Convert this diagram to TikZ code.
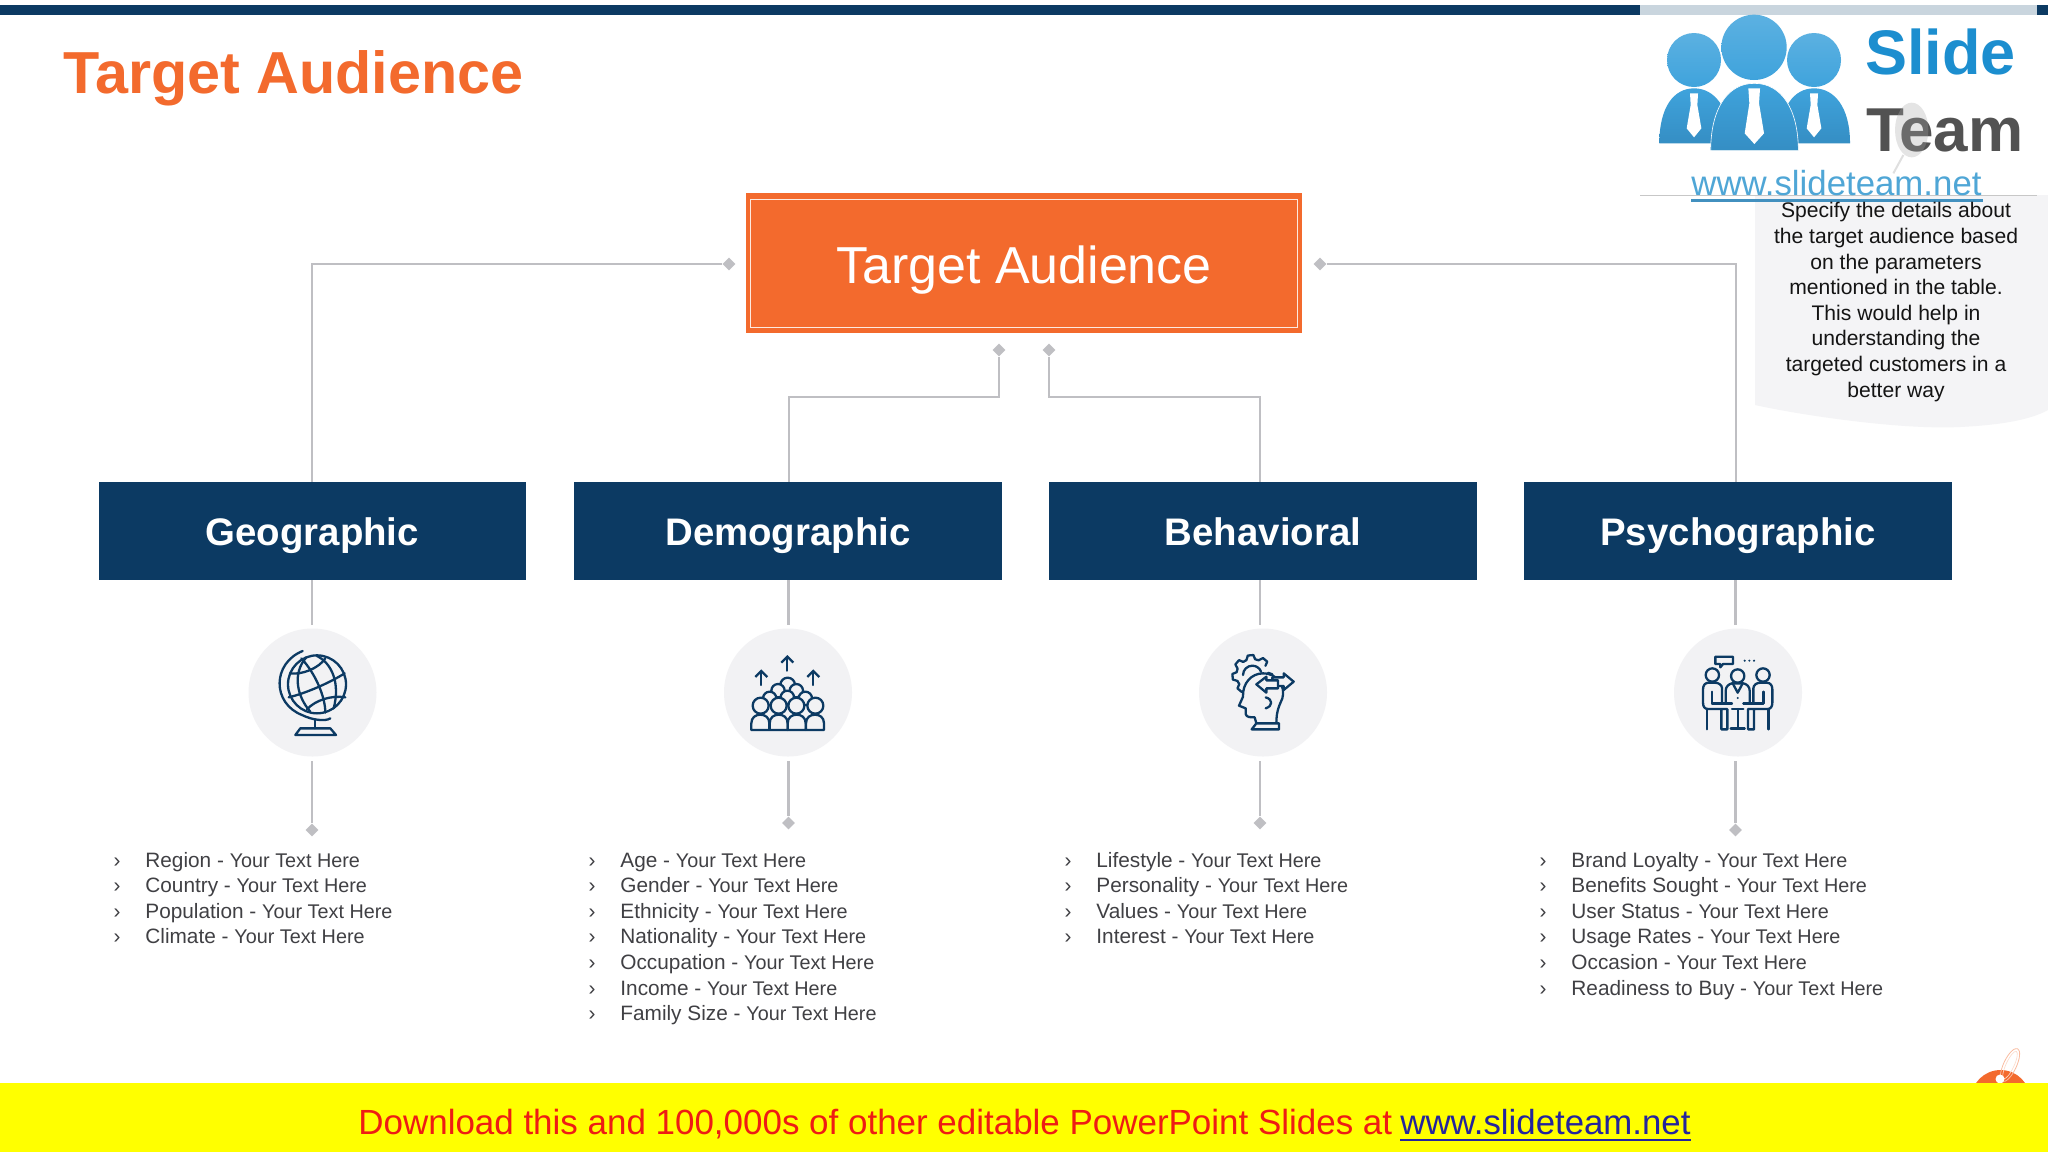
\documentclass[tikz,border=0pt]{standalone}
\usepackage{fontspec}
\setmainfont{Liberation Sans}
\usepackage{xcolor}
\usetikzlibrary{arrows.meta,shapes.geometric}
\definecolor{navy}{HTML}{0C3A63}
\definecolor{flame}{HTML}{F36A2D}
\definecolor{wire}{HTML}{BFBFC3}
\definecolor{disc}{HTML}{F2F2F4}
\definecolor{ink}{HTML}{404044}
\definecolor{sky}{HTML}{3FA3DC}
\definecolor{skyink}{HTML}{1C8ECF}
\definecolor{urlblue}{HTML}{4FA6D6}
\definecolor{bandred}{HTML}{EE1C14}
\definecolor{bandblue}{HTML}{24249C}
\definecolor{bandyellow}{HTML}{FFFF00}
\definecolor{barpale}{HTML}{C9D5DE}
\definecolor{notegray}{HTML}{F4F4F6}
\tikzset{
  conn/.style={draw=wire, line width=1.1pt},
  endtip/.style={diamond, fill=wire, inner sep=0pt, minimum size=6.5pt},
  headbox/.style={fill=navy, text=white, font=\fontsize{19.2}{23}\selectfont\bfseries, minimum width=213.7pt, minimum height=49pt, inner sep=0pt, text height=18pt, text depth=4pt},
  badge/.style={circle, fill=disc, minimum size=64pt, inner sep=0pt, outer sep=2pt},
  icon/.style={draw=navy, line width=1.15pt, line cap=round, line join=round},
  iconf/.style={icon, fill=disc},
  small/.style={x=0.16667pt, y=-0.16667pt},
  chev/.style={anchor=base, text=ink, font=\fontsize{10.4}{12}\selectfont},
  row/.style={anchor=base west, text=ink, inner sep=0pt, font=\fontsize{10.4}{12}\selectfont},
}
\newcommand{\yourtext}{{\fontsize{9.9}{12}\selectfont Your Text Here}}
\begin{document}
\begin{tikzpicture}[x=0.5pt,y=-0.5pt]
  \path[use as bounding box,fill=white] (0,0) rectangle (2048,1152);
  % top bar
  \fill[navy] (0,5) rectangle (1640,15);
  \fill[navy] (2037,5) rectangle (2048,15);
  \fill[notegray] (1755,195) -- (1755,405) .. controls (1800,415) and (1900,430) .. (1960,427)
    .. controls (2000,425) and (2030,420) .. (2048,410) -- (2048,195) -- cycle;
  \fill[white] (1640,15) rectangle (2037,195);
  \fill[barpale] (1640,5) rectangle (2037,15);
  \draw[black!22!white,line width=0.5pt] (1640,195) -- (2037,195);
  % logo
  \begin{scope}[shift={(1620,0)},small]
    \shade[top color=sky!85!white,bottom color=sky] (222,180) circle (81);
    \shade[top color=sky!85!white,bottom color=sky] (582,180) circle (81);
    \shade[top color=sky!85!white,bottom color=sky] (402,142) circle (98);
    \foreach \px in {222,582} {
      \shade[top color=sky,bottom color=sky!80!navy] (\px-104,430) .. controls (\px-104,320) and (\px-60,265) .. (\px,265)
        .. controls (\px+60,265) and (\px+108,320) .. (\px+108,430) -- cycle;
      \fill[white] (\px-12,280) -- (\px+12,280) -- (\px+10,315) -- (\px+22,385) -- (\px,412) -- (\px-22,385) -- (\px-10,315) -- cycle;
    }
    \shade[top color=sky,bottom color=sky!80!navy,draw=white,line width=0.3pt] (272,452) .. controls (272,330) and (320,250) .. (403,250)
      .. controls (486,250) and (535,330) .. (535,452) -- cycle;
    \fill[white] (385,265) -- (420,265) -- (417,310) -- (432,400) -- (403,432) -- (374,400) -- (388,310) -- cycle;
    \node[anchor=base west,inner sep=0pt,text=skyink,font=\fontsize{31.5}{36}\selectfont\bfseries] (logoslide) at (735,222) {Slide};
    \node[anchor=base west,inner sep=0pt,text=black!68,font=\fontsize{31}{36}\selectfont\bfseries] (logoteam) at (737,455) {Team};
    \fill[black!35,opacity=0.3] (875,390) ellipse (50 and 82);
    \draw[black!35,opacity=0.35,line width=1pt] (850,465) -- (820,520);
    \node[anchor=base west,inner sep=0pt,text=urlblue,font=\fontsize{17.4}{20}\selectfont] (logourl) at (213,586) {www.slideteam.net};
    \draw[urlblue!80!navy,line width=1.2pt] (213,601) -- (1088,601);
  \end{scope}
  % note text
  \node[align=center,inner sep=0pt,text=black!92,font=\fontsize{10.55}{12.8}\selectfont] (note) at (1896,302)
    {Specify the details about\\the target audience based\\on the parameters\\mentioned in the table.\\This would help in\\understanding the\\targeted customers in a\\better way};
  % title
  \node[anchor=base west,inner sep=0pt,text=flame,font=\fontsize{29.65}{34}\selectfont\bfseries] (title) at (63,93) {Target Audience};
  % root box
  \node[fill=flame,text=white,minimum width=278pt,minimum height=70pt,inner sep=0pt,text height=24pt,text depth=4pt,font=\fontsize{26}{30}\selectfont] (root) at (1024,263) {Target Audience};
  \draw[white!85!flame,line width=0.5pt] ([shift={(2.6pt,-3.5pt)}]root.north west) rectangle ([shift={(-2.6pt,3pt)}]root.south east);
  \node[endtip] (tipl) at (729,264) {};
  \node[endtip] (tipr) at (1320,264) {};
  \node[endtip] (tipa) at (999,350) {};
  \node[endtip] (tipb) at (1049,350) {};
  % category boxes
  \node[headbox] (geo) at (312.3,531) {Geographic};
  \node[headbox] (demo) at (788,531) {Demographic};
  \node[headbox] (behav) at (1263,531) {Behavioral};
  \node[headbox] (psycho) at (1738,531) {Psychographic};
  \coordinate (demotop) at (789,482);
  \coordinate (behavtop) at (1260,482);
  \coordinate (psychotop) at (1736,482);
  \draw[conn] (tipl) -| (geo.north);
  \draw[conn] (tipr) -| (psychotop);
  \draw[conn] (tipa) -- ++(0,47) -| (demotop);
  \draw[conn] (tipb) -- ++(0,47) -| (behavtop);
  % badges and lower tips
  \node[badge] (bgeo) at (312.5,692.5) {};
  \node[badge] (bdemo) at (788,692.5) {};
  \node[badge] (bbehav) at (1263,692.5) {};
  \node[badge] (bpsycho) at (1738,692.5) {};
  \node[endtip] (tipg) at (312,830) {};
  \node[endtip] (tipd) at (788.5,823) {};
  \node[endtip] (tipe) at (1260,823) {};
  \node[endtip] (tipp) at (1735.5,830) {};
  \coordinate (lineg) at (312,580);
  \coordinate (lined) at (788.5,580);
  \coordinate (linee) at (1260,580);
  \coordinate (linep) at (1735.5,580);
  \draw[conn] (lineg) -- (lineg |- bgeo.north);
  \draw[conn] (lined) -- (lined |- bdemo.north);
  \draw[conn] (linee) -- (linee |- bbehav.north);
  \draw[conn] (linep) -- (linep |- bpsycho.north);
  \draw[conn] (tipg) -- (tipg |- bgeo.south);
  \draw[conn] (tipd) -- (tipd |- bdemo.south);
  \draw[conn] (tipe) -- (tipe |- bbehav.south);
  \draw[conn] (tipp) -- (tipp |- bpsycho.south);
  % globe
  \begin{scope}[shift={(262,640)},small]
    \draw[icon] (165,133) circle (87);
    \draw[icon] (122,33) .. controls (30,70) and (30,190) .. (120,225) .. controls (150,240) and (190,245) .. (205,235);
    \draw[icon] (80,172) .. controls (130,160) and (200,130) .. (248,100);
    \draw[icon] (84,100) .. controls (120,105) and (170,85) .. (190,55);
    \draw[icon] (135,208) .. controls (160,180) and (210,165) .. (250,172);
    \draw[icon] (133,52) .. controls (90,100) and (105,170) .. (145,215);
    \draw[icon] (118,55) .. controls (160,100) and (190,170) .. (190,218);
    \draw[icon] (165,48) .. controls (210,70) and (235,130) .. (215,205);
    \draw[icon] (160,240) -- (160,265);
    \draw[icon] (100,285) -- (115,265) -- (205,265) -- (222,285) -- cycle;
  \end{scope}
  % crowd
  \begin{scope}[shift={(738,640)},small]
    \foreach \ax/\ay in {70/88,148/45,226/88} {
      \draw[icon,-{Straight Barb[length=3pt,width=6pt]}] (\ax,\ay+47) -- (\ax,\ay);
    }
    \draw[iconf] (149,135) circle (22);
    \foreach \hx/\hy/\hr in {120/152/20,175/152/20,95/175/20,148/172/20,202/175/20,68/197/24,122/197/24,175/197/24,232/197/24} {
      \draw[iconf] (\hx,\hy) circle (\hr);
    }
    \foreach \bx in {40,95,149,204} {
      \draw[iconf] (\bx,270) -- (\bx,250) .. controls (\bx,232) and (\bx+13,224) .. (\bx+27,224)
        .. controls (\bx+41,224) and (\bx+54,232) .. (\bx+54,250) -- (\bx+54,270) -- cycle;
    }
  \end{scope}
  % head with gear
  \begin{scope}[shift={(1213,640)},small]
    \begin{scope}[shift={(118,105)}]
      \draw[icon] (-8:48) -- (-2:60) -- (14:60) -- (20:48)
        \foreach \ga in {45,90,135,180,225,270,315} { -- (\ga-22:48) -- (\ga-13:60) -- (\ga+3:60) -- (\ga+10:48) };
      \draw[icon] (180:28) arc (180:340:28);
    \end{scope}
    \draw[iconf] (130,250) -- (125,232) .. controls (112,232) and (100,232) .. (98,222) -- (98,205) -- (78,197)
      -- (90,170) .. controls (88,130) and (115,100) .. (150,100) .. controls (195,100) and (218,140) .. (208,175)
      .. controls (200,195) and (190,210) .. (190,250);
    \draw[iconf] (116,268) -- (130,250) -- (198,250) -- (198,268) -- cycle;
    \draw[icon] (158,172) .. controls (180,178) and (180,198) .. (158,205);
    \draw[iconf] (242,125) -- (212,100) -- (212,112) -- (178,112) -- (178,138) -- (212,138) -- (212,150) -- cycle;
    \draw[iconf] (130,133) -- (160,110) -- (160,121) -- (195,121) -- (195,145) -- (160,145) -- (160,158) -- cycle;
  \end{scope}
  % meeting
  \begin{scope}[shift={(1688,640)},small]
    \draw[icon] (82,50) -- (135,50) -- (135,72) -- (105,72) -- (97,82) -- (97,72) -- (82,72) -- cycle;
    \foreach \dx in {170,184,198} { \fill[navy] (\dx,62) circle (3.5); }
    \foreach \fx/\fs in {0/1,298/-1} {
      \begin{scope}[xshift=\fx*0.16667pt,x=\fs*0.16667pt]
        \draw[icon] (73,105) circle (20);
        \draw[icon] (72,190) -- (72,155);
        \draw[icon] (102,190) -- (102,145) .. controls (102,135) and (92,128) .. (80,128) -- (62,128)
          .. controls (52,128) and (45,135) .. (45,148) -- (45,188) .. controls (45,200) and (50,207) .. (60,207) -- (118,207) -- (118,268) -- (100,268) -- (100,207);
        \draw[icon] (57,207) -- (57,268);
        \draw[icon] (72,190) -- (132,190);
      \end{scope}
    }
    \draw[icon] (149,108) circle (20);
    \draw[icon] (113,190) -- (113,152) .. controls (113,140) and (122,132) .. (132,130) -- (166,130) .. controls (176,132) and (185,140) .. (185,152) -- (185,190);
    \draw[icon] (135,132) -- (149,158) -- (163,132);
    \fill[navy] (149,174) circle (3.5);
    \draw[icon] (132,207) -- (166,207);
    \draw[icon] (149,207) -- (149,265);
    \draw[icon] (128,265) -- (170,265);
  \end{scope}
  % lists
  \foreach \txt [count=\i] in {Region,Country,Population,Climate} {
    \node[chev] (mg\i) at (117,{867+25.6*(\i-1)}) {›};
    \node[row] (rg\i) at (145,{867+25.6*(\i-1)}) {\txt{} - \yourtext};
  }
  \foreach \txt [count=\i] in {Age,Gender,Ethnicity,Nationality,Occupation,Income,Family Size} {
    \node[chev] (md\i) at (592,{867+25.6*(\i-1)}) {›};
    \node[row] (rd\i) at (620,{867+25.6*(\i-1)}) {\txt{} - \yourtext};
  }
  \foreach \txt [count=\i] in {Lifestyle,Personality,Values,Interest} {
    \node[chev] (mb\i) at (1068,{867+25.6*(\i-1)}) {›};
    \node[row] (rb\i) at (1096,{867+25.6*(\i-1)}) {\txt{} - \yourtext};
  }
  \foreach \txt [count=\i] in {Brand Loyalty,Benefits Sought,User Status,Usage Rates,Occasion,Readiness to Buy} {
    \node[chev] (mp\i) at (1543,{867+25.6*(\i-1)}) {›};
    \node[row] (rp\i) at (1571,{867+25.6*(\i-1)}) {\txt{} - \yourtext};
  }
  % corner tag and band
  \fill[flame] (2000.5,1099.6) circle (29.6);
  \draw[white!55!flame,line width=0.4pt,rotate around={-25:(2010,1065)}] (2010,1065) ellipse (6.5 and 18);
  \draw[white!75!flame,line width=0.3pt,rotate around={-25:(2010,1065)}] (2010,1065) ellipse (4 and 15);
  \fill[white] (2000,1079) circle (4.5);
  \fill[bandyellow] (0,1083) rectangle (2048,1152);
  \node[anchor=base west,inner sep=0pt,text=bandred,font=\fontsize{17.48}{20}\selectfont] (bandtext) at (358,1134) {Download this and 100,000s of other editable PowerPoint Slides at};
  \node[anchor=base west,inner sep=0pt,text=bandblue,font=\fontsize{17.4}{20}\selectfont] (bandurl) at (1400,1134) {www.slideteam.net};
  \draw[bandblue,line width=1pt] (bandurl.base west) ++(0,6) -- ++(291,0);
\end{tikzpicture}
\end{document}
